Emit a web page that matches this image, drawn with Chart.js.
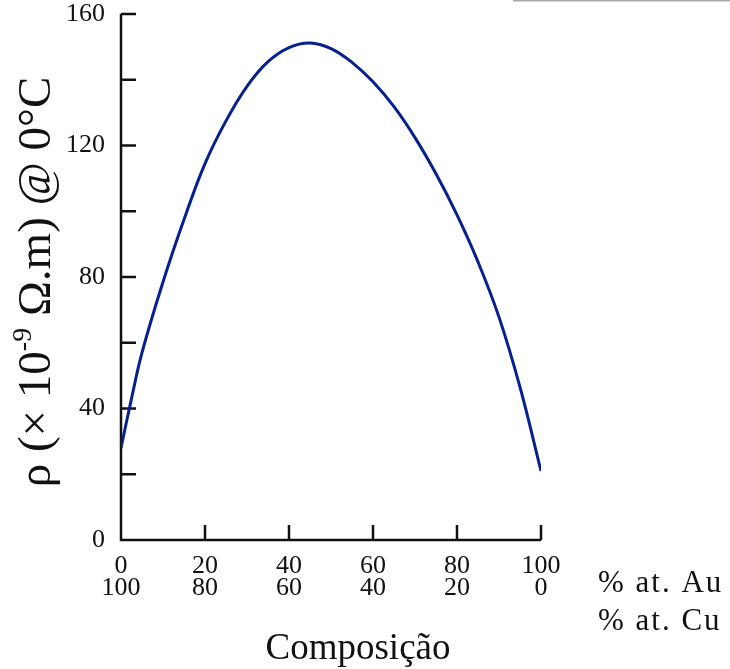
<!DOCTYPE html>
<html>
<head>
<meta charset="utf-8">
<script src="https://cdn.jsdelivr.net/npm/chart.js@4"></script>
<style>
  html, body { margin: 0; padding: 0; background: #fff; }
  #wrap { width: 730px; height: 669px; position: relative; }
</style>
</head>
<body>
<div id="wrap"><canvas id="rhoChart" width="730" height="669"></canvas></div>
<script>
// % at. Au (the Cu row is just 100 - Au)
const auPct = [0, 2.5, 5, 10, 15, 20, 25, 30, 35, 40, 45, 50, 55, 60, 65, 70, 75, 80, 85, 90, 95, 100]
// resistivity, x 10^-9 ohm.m
const rho   = [28, 43, 57, 78.5, 97.5, 114.5, 127.5, 138, 145.5, 149.8, 151.2, 149.5, 145.3, 139.4, 131.8, 122.4, 111.4, 98.9, 84.6, 67.8, 46.5, 21]

const yTickStep = 20
const yLabelEvery = 40
const xTickStep = 20

const SERIF = '"Liberation Serif", "Times New Roman", serif'
const INK = '#111'

// axis lines, inward tick marks and the free text around the plot
const decor = {
  id: 'decor',
  beforeDatasetsDraw(chart) {
    const { ctx, chartArea: a, scales } = chart
    ctx.save()
    ctx.strokeStyle = INK
    ctx.lineWidth = 2.5
    ctx.beginPath()
    ctx.moveTo(a.left, a.top); ctx.lineTo(a.left, a.bottom); ctx.lineTo(a.right, a.bottom)
    scales.y.ticks.forEach(t => {
      if (t.value <= 0) return
      const py = scales.y.getPixelForValue(t.value)
      ctx.moveTo(a.left, py); ctx.lineTo(a.left + 15, py)
    })
    scales.x.ticks.forEach(t => {
      if (t.value <= 0) return
      const px = scales.x.getPixelForValue(t.value)
      ctx.moveTo(px, a.bottom); ctx.lineTo(px, a.bottom - 15)
    })
    ctx.stroke()
    ctx.restore()
  },
  afterDraw(chart) {
    const { ctx } = chart
    ctx.save()
    ctx.fillStyle = INK

    // y title, rotated, with the -9 exponent raised
    const big = 47, small = 28
    const parts = [
      { t: 'ρ (× 10', f: big, dy: 0 },
      { t: '-9', f: small, dy: -19 },
      { t: ' Ω.m) @ 0°C', f: big, dy: 0 },
    ]
    let total = 0
    parts.forEach(p => { ctx.font = `${p.f}px ${SERIF}`; p.w = ctx.measureText(p.t).width; total += p.w })
    ctx.translate(50, 282)
    ctx.rotate(-Math.PI / 2)
    ctx.textBaseline = 'alphabetic'
    ctx.textAlign = 'left'
    let cx = -total / 2
    parts.forEach(p => { ctx.font = `${p.f}px ${SERIF}`; ctx.fillText(p.t, cx, p.dy); cx += p.w })
    ctx.setTransform(1, 0, 0, 1, 0, 0)

    // row names and x title
    ctx.font = `31px ${SERIF}`
    ctx.textAlign = 'left'
    ctx.letterSpacing = '2px'
    ctx.fillText('% at. Au', 598, 592)
    ctx.fillText('% at. Cu', 598, 630)
    ctx.letterSpacing = '0px'
    ctx.font = `37px ${SERIF}`
    ctx.textAlign = 'center'
    ctx.fillText('Composição', 358, 659)

    // clipped caption rule at the top right
    ctx.strokeStyle = '#aaa'
    ctx.lineWidth = 1.5
    ctx.beginPath(); ctx.moveTo(513, 0.75); ctx.lineTo(730, 0.75); ctx.stroke()
    ctx.restore()
  }
}

new Chart(document.getElementById('rhoChart'), {
  type: 'line',
  data: {
    datasets: [{
      data: auPct.map((x, i) => ({ x, y: rho[i] })),
      borderColor: '#06208e',
      borderWidth: 3,
      pointRadius: 0,
      fill: false,
      tension: 0.4,
    }]
  },
  options: {
    responsive: false, animation: false,
    layout: { padding: { top: 14, right: 189, left: 0, bottom: 0 } },
    plugins: { legend: { display: false }, tooltip: { enabled: false } },
    scales: {
      x: {
        type: 'linear', min: 0, max: 100,
        grid: { display: false }, border: { display: false },
        afterFit: s => { s.height = 129; s.paddingLeft = 0; s.paddingRight = 0 },
        ticks: {
          stepSize: xTickStep, padding: 7, maxRotation: 0,
          color: INK, font: { family: SERIF, size: 26, lineHeight: 0.85 },
          callback: v => [String(v), String(100 - v)]
        }
      },
      y: {
        min: 0, max: 160,
        grid: { display: false }, border: { display: false },
        afterFit: s => { s.width = 121; s.paddingTop = 0; s.paddingBottom = 0 },
        ticks: {
          stepSize: yTickStep, padding: 8,
          color: INK, font: { family: SERIF, size: 26 },
          callback: v => v % yLabelEvery === 0 ? String(v) : ''
        }
      }
    }
  },
  plugins: [decor]
})
</script>
</body>
</html>
